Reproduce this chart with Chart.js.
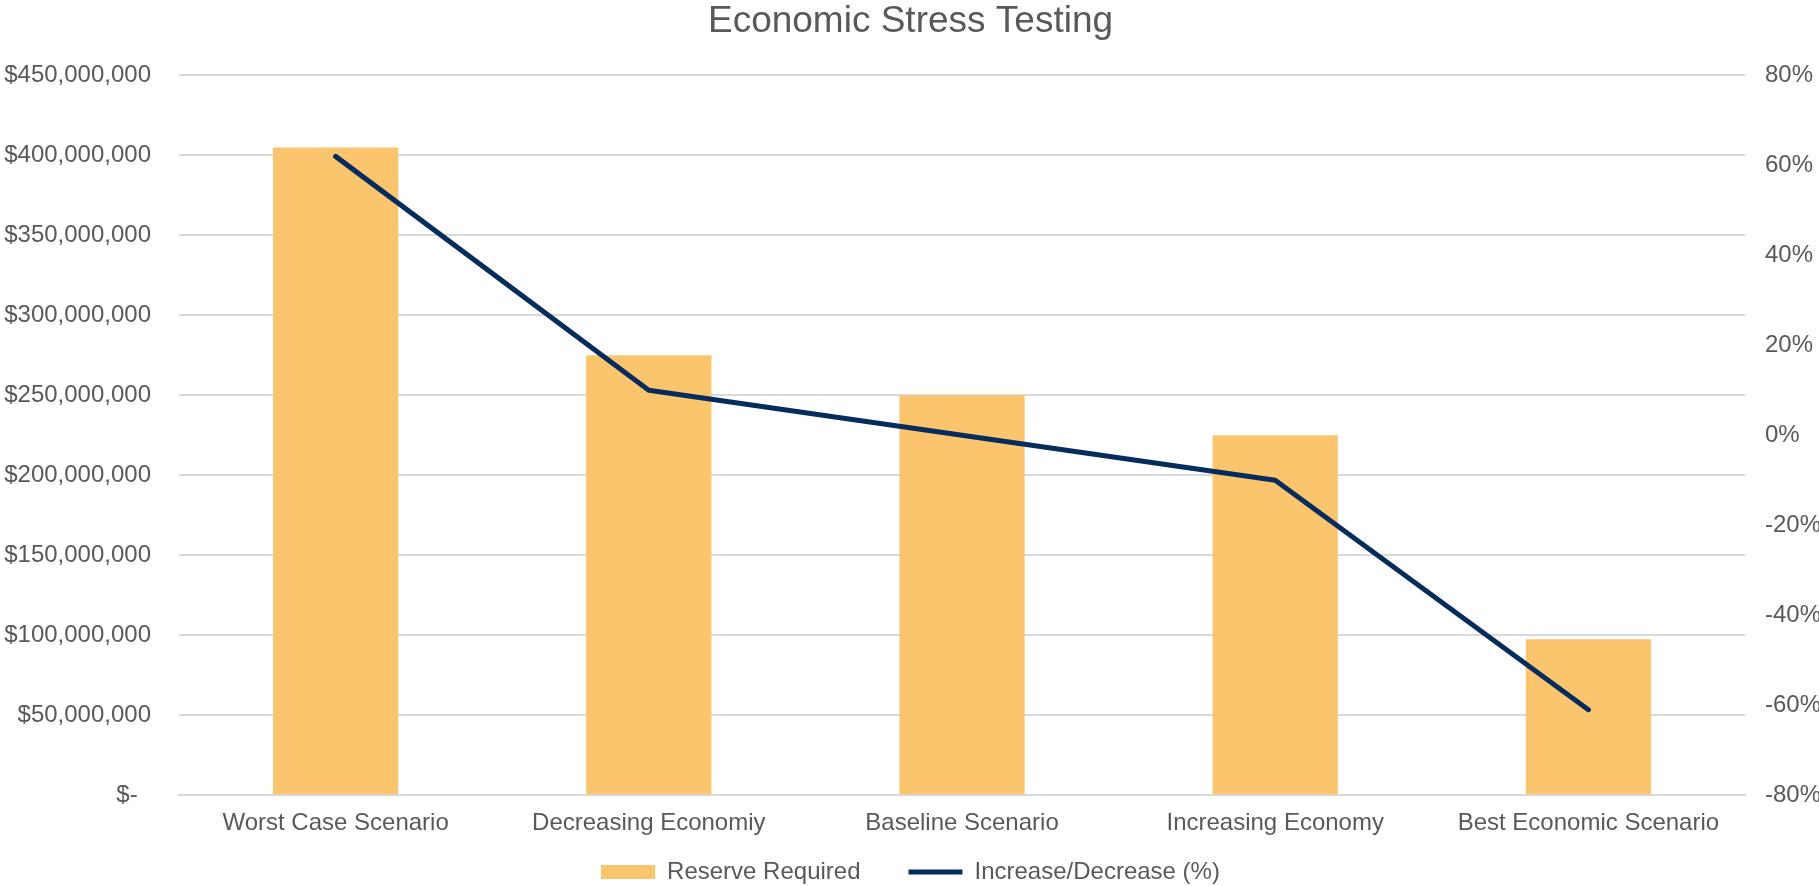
<!DOCTYPE html>
<html>
<head>
<meta charset="utf-8">
<script src="https://cdn.jsdelivr.net/npm/chart.js@4/dist/chart.umd.min.js"></script>
<style>
    html, body { margin: 0; padding: 0; background: #fff; }
    #wrap { width: 1819px; height: 886px; }
</style>
</head>
<body>
<div id="wrap"><canvas id="canvas-1"></canvas></div>
<script>
'use strict';

var scenarios = ['Worst Case Scenario', 'Decreasing Economiy', 'Baseline Scenario', 'Increasing Economy', 'Best Economic Scenario'];
var reserveRequired = [405000000, 275000000, 250000000, 225000000, 97500000];
var changePct = [62, 10, 0, -10, -61];

var textGrey = '#595959';
var gridGrey = '#d9d9d9';
var fontFamily = '"Liberation Sans", Arial, sans-serif';

// accounting style: "$450,000,000", zero shows as a dash
var dollarFmt = function (v) {
    if (v === 0) return '$-  ';
    return '$' + v.toLocaleString('en-US');
};

var ctx = document.getElementById('canvas-1');
var chart = new Chart(ctx, {
    data: {
        labels: scenarios,
        datasets: [
            {
                type: 'line',
                label: 'Increase/Decrease (%)',
                data: changePct,
                yAxisID: 'yPct',
                borderColor: '#062c5e',
                backgroundColor: '#062c5e',
                borderWidth: 5,
                borderCapStyle: 'round',
                borderJoinStyle: 'round',
                pointRadius: 0,
                pointStyle: 'line',
                tension: 0,
                order: 1
            },
            {
                type: 'bar',
                label: 'Reserve Required',
                data: reserveRequired,
                yAxisID: 'y',
                backgroundColor: '#fbc56d',
                borderWidth: 0,
                pointStyle: 'rect',
                barPercentage: 0.4,
                categoryPercentage: 1,
                order: 2
            }
        ]
    },
    options: {
        responsive: true,
        maintainAspectRatio: false,
        animation: false,
        layout: { padding: { left: 2, right: 0, top: 0, bottom: -8 } },
        plugins: {
            title: {
                display: true,
                text: 'Economic Stress Testing',
                color: textGrey,
                font: { family: fontFamily, size: 37, weight: 'normal' },
                padding: { top: 0, bottom: 31 }
            },
            legend: {
                position: 'bottom',
                reverse: true,
                labels: {
                    color: textGrey,
                    font: { family: fontFamily, size: 24 },
                    usePointStyle: true,
                    pointStyleWidth: 54,
                    boxHeight: 14,
                    padding: 8,
                    generateLabels: function (c) {
                        var items = Chart.defaults.plugins.legend.labels.generateLabels(c);
                        // a little more room after the bar entry
                        items.forEach(function (it) {
                            if (it.datasetIndex === 1) it.text = it.text + '      ';
                        });
                        return items;
                    }
                }
            },
            tooltip: { enabled: false }
        },
        scales: {
            x: {
                grid: { display: false, drawTicks: false },
                border: { display: true, color: gridGrey, width: 2 },
                ticks: {
                    color: textGrey,
                    padding: 14,
                    maxRotation: 0,
                    font: { family: fontFamily, size: 24 }
                }
            },
            y: {
                position: 'left',
                min: 0,
                max: 450000000,
                grid: { color: gridGrey, lineWidth: 2, drawTicks: false },
                border: { display: false },
                afterFit: function (scale) { scale.width = 177; },
                ticks: {
                    stepSize: 50000000,
                    color: textGrey,
                    padding: 28,
                    callback: dollarFmt,
                    font: { family: fontFamily, size: 24 }
                }
            },
            yPct: {
                position: 'right',
                min: -80,
                max: 80,
                grid: { display: false, drawTicks: false },
                border: { display: false },
                afterFit: function (scale) { scale.width = 74; },
                ticks: {
                    stepSize: 20,
                    color: textGrey,
                    padding: 20,
                    callback: function (v) { return v + '%'; },
                    font: { family: fontFamily, size: 24 }
                }
            }
        }
    }
});
</script>
</body>
</html>
